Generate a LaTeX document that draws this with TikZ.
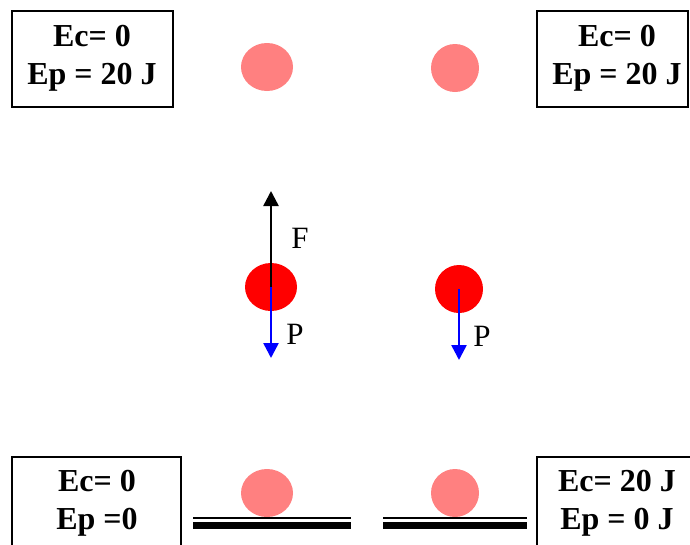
\documentclass[tikz,border=0pt]{standalone}
\usepackage{fontspec}
\setmainfont{Liberation Serif}
\usetikzlibrary{arrows.meta}
\definecolor{pinkball}{RGB}{255,128,128}
\definecolor{redball}{RGB}{255,0,0}
\definecolor{pblue}{RGB}{0,0,255}
\begin{document}
\begin{tikzpicture}[x=1pt,y=-1pt,
  ebox/.style={draw=black,line width=1.6pt,fill=white},
  etext/.style={font=\fontsize{32}{38}\selectfont\bfseries,align=center,inner sep=0pt},
  flabel/.style={font=\fontsize{31}{34}\selectfont,inner sep=0pt},
  vec/.style={line width=2.5pt,-{Triangle[width=15pt,length=15pt]}},
  ground/.style={fill=black,draw=none}]
\useasboundingbox (0,0) rectangle (690,544);
\clip (0,0) rectangle (690,544);
% boxes
\draw[ebox] (12,11) rectangle (173,107);
\draw[ebox] (537,11) rectangle (688,107);
\draw[ebox] (12,457) rectangle (181,560);
\draw[ebox] (537,457) rectangle (700,560);
\node[etext] (t1) at (92,58) {Ec= 0\\Ep = 20 J};
\node[etext] (t2) at (617,58) {Ec= 0\\Ep = 20 J};
\node[etext] (t3) at (97,503) {Ec= 0\\Ep =0};
\node[etext] (t4) at (617,503) {Ec= 20 J\\Ep = 0 J};
% balls
\fill[pinkball] (267,67) ellipse [x radius=26,y radius=24];
\fill[pinkball] (455,68) circle [radius=24];
\fill[redball] (271,287) ellipse [x radius=26,y radius=24];
\fill[redball] (459,289) circle [radius=24];
\fill[pinkball] (267,493) ellipse [x radius=26,y radius=24];
\fill[pinkball] (455,493) circle [radius=24];
% ground
\fill[ground] (193,517.3) rectangle (351,519.3);
\fill[ground] (193,522) rectangle (351,529);
\fill[ground] (383,517.3) rectangle (527,519.3);
\fill[ground] (383,522) rectangle (527,529);
% forces
\coordinate (c1) at (271,287);
\coordinate (c2) at (459,289);
\coordinate (fend) at (271,191);
\coordinate (p1end) at (271,358);
\coordinate (p2end) at (459,360);
\draw[vec,black] (c1) -- (fend);
\draw[vec,pblue] (c1) -- (p1end);
\draw[vec,pblue] (c2) -- (p2end);
\node[flabel] (F) at (300,238) {F};
\node[flabel] (P1) at (295,334) {P};
\node[flabel] (P2) at (482,336) {P};
\end{tikzpicture}
\end{document}
